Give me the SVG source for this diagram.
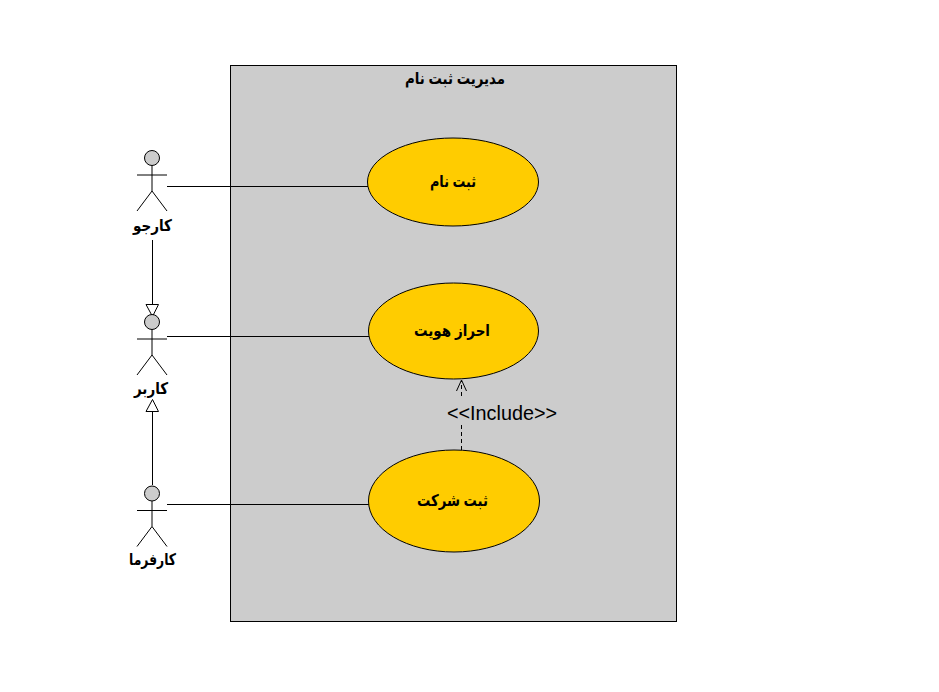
<svg xmlns="http://www.w3.org/2000/svg" width="939" height="692" viewBox="0 0 939 692">
<style>
.l{fill:none;stroke:#000;stroke-width:1}
.u{fill:#ffcc00;stroke:#000;stroke-width:1}
.h{fill:#cccccc;stroke:#000;stroke-width:1}
.t{font-family:"Liberation Sans","DejaVu Sans",sans-serif;font-weight:bold;font-size:16px;fill:#000;text-anchor:middle;direction:rtl}
.i{font-family:"Liberation Sans",Arial,sans-serif;font-size:20px;fill:#000}
</style>
<defs>
<g id="actor">
<circle class="h" cx="152" cy="0" r="7.5"/>
<path class="l" d="M137 17H167M152 7.5V33M152 33L137 53M152 33L167 53"/>
</g>
</defs>
<rect width="939" height="692" fill="#fff"/>
<g id="system">
<rect x="230.500" y="65.500" width="446" height="556" fill="#cccccc" stroke="#000"/>
<text class="t" x="455" y="84" textLength="100" lengthAdjust="spacingAndGlyphs">مدیریت ثبت نام</text>
</g>
<g id="connectors">
<path class="l" d="M167 186.500H368M167 336.500H369M167 504.500H369"/>
<path class="l" d="M152.500 240V304M152.500 485V411"/>
<path d="M146 304.500H158.500L152.500 316.500Z" fill="#fff" stroke="#000"/>
<path d="M146 411.500H158.500L152.500 399.500Z" fill="#fff" stroke="#000"/>
<path class="l" stroke-dasharray="4 3" d="M461.500 450V425M461.500 396V381"/>
<path class="l" d="M456.500 391L461.500 380L466.500 391"/>
<text class="i" x="447" y="420" textLength="110" lengthAdjust="spacingAndGlyphs">&lt;&lt;Include&gt;&gt;</text>
</g>
<g id="actor-karjo">
<use href="#actor" y="158"/>
<text class="t" x="152.500" y="231" textLength="39" lengthAdjust="spacingAndGlyphs">کارجو</text>
</g>
<g id="actor-karbar">
<use href="#actor" y="322"/>
<text class="t" x="151" y="394" textLength="34" lengthAdjust="spacingAndGlyphs">کاربر</text>
</g>
<g id="actor-karfarma">
<use href="#actor" y="493.500"/>
<text class="t" x="152.500" y="565" textLength="47" lengthAdjust="spacingAndGlyphs">کارفرما</text>
</g>
<g id="uc-register">
<ellipse class="u" cx="453" cy="182" rx="85.500" ry="44"/>
<text class="t" x="453" y="187" textLength="46" lengthAdjust="spacingAndGlyphs">ثبت نام</text>
</g>
<g id="uc-auth">
<ellipse class="u" cx="453.500" cy="331" rx="85" ry="48"/>
<text class="t" x="452" y="336" textLength="76" lengthAdjust="spacingAndGlyphs">احراز هویت</text>
</g>
<g id="uc-company">
<ellipse class="u" cx="454" cy="501" rx="85.500" ry="51"/>
<text class="t" x="452.500" y="506" textLength="71" lengthAdjust="spacingAndGlyphs">ثبت شرکت</text>
</g>
</svg>
